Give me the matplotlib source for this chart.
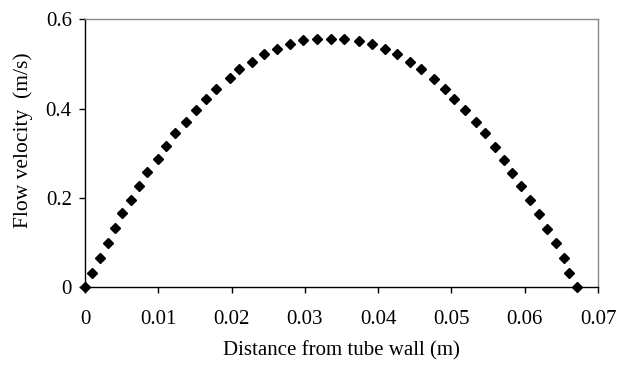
import matplotlib.pyplot as plt

# distance from tube wall (m) and flow velocity (m/s)
distance = [0.0, 0.0009, 0.0021, 0.0031, 0.0041, 0.0051, 0.0063, 0.0074, 0.0085,
            0.0099, 0.0111, 0.0123, 0.0138, 0.0152, 0.0165, 0.0179, 0.0198, 0.0210,
            0.0228, 0.0244, 0.0262, 0.0280, 0.0298, 0.0316, 0.0336, 0.0353, 0.0374,
            0.0392, 0.0410, 0.0426, 0.0443, 0.0458, 0.0476, 0.0491, 0.0504, 0.0519,
            0.0533, 0.0546, 0.0559, 0.0572, 0.0583, 0.0595, 0.0607, 0.0620, 0.0631,
            0.0642, 0.0653, 0.0660, 0.0672]
velocity = [0.0, 0.031, 0.066, 0.098, 0.132, 0.165, 0.195, 0.227, 0.257,
            0.286, 0.316, 0.345, 0.371, 0.397, 0.422, 0.445, 0.468, 0.490,
            0.505, 0.523, 0.534, 0.546, 0.553, 0.556, 0.556, 0.556, 0.552,
            0.544, 0.533, 0.523, 0.504, 0.489, 0.467, 0.444, 0.422, 0.397,
            0.371, 0.345, 0.314, 0.285, 0.256, 0.227, 0.195, 0.164, 0.131,
            0.098, 0.066, 0.031, 0.0]

x_ticks = [0, 0.01, 0.02, 0.03, 0.04, 0.05, 0.06, 0.07]
x_labels = ["0", "0.01", "0.02", "0.03", "0.04", "0.05", "0.06", "0.07"]
y_ticks = [0, 0.2, 0.4, 0.6]
y_labels = ["0", "0.2", "0.4", "0.6"]

plt.rcParams["font.family"] = ["Liberation Serif", "DejaVu Serif"]

fig = plt.figure(figsize=(6.19, 3.72), dpi=100)
ax = fig.add_axes([0.1373, 0.2285, 0.8288, 0.7191])

ax.plot(distance, velocity, linestyle="none", marker="D", markersize=5,
        color="black", clip_on=False, zorder=3)

ax.set_xlim(0, 0.07)
ax.set_ylim(0, 0.6)
ax.set_xticks(x_ticks)
ax.set_xticklabels(x_labels)
ax.set_yticks(y_ticks)
ax.set_yticklabels(y_labels)

ax.tick_params(axis="x", direction="out", length=4.5, width=1, pad=12, labelsize=15)
ax.tick_params(axis="y", direction="out", length=4.5, width=1, pad=5, labelsize=15)

ax.spines["left"].set_color("black")
ax.spines["bottom"].set_color("black")
ax.spines["top"].set_color("#888888")
ax.spines["right"].set_color("#888888")
for s in ax.spines.values():
    s.set_linewidth(1)

ax.set_xlabel("Distance from tube wall (m)", fontsize=15, labelpad=9)
ax.set_ylabel("Flow velocity  (m/s)", fontsize=15.5)
ax.yaxis.set_label_coords(-0.102, 0.55)

fig.savefig("out.png", dpi=100)
